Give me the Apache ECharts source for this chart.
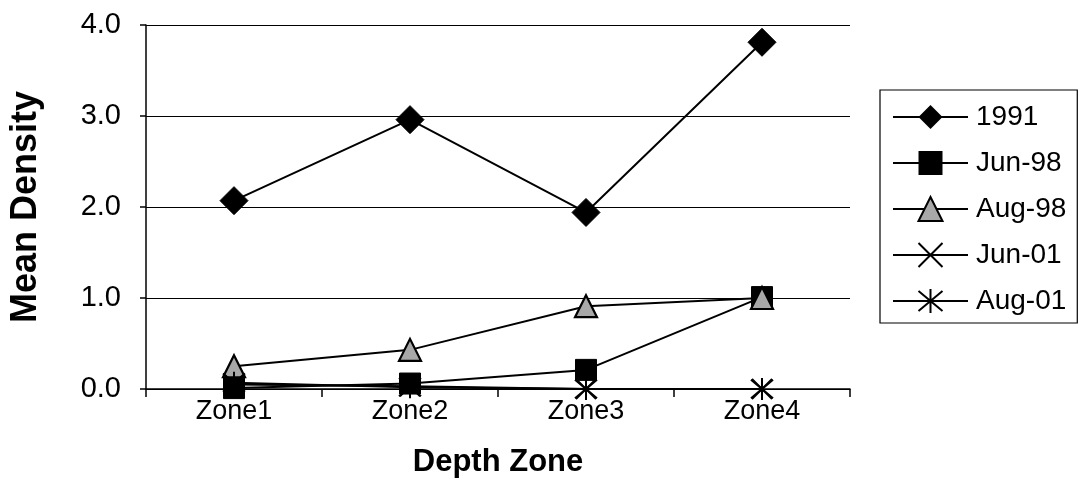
<!DOCTYPE html>
<html>
<head>
<meta charset="utf-8">
<script src="https://cdn.jsdelivr.net/npm/echarts@6/dist/echarts.min.js"></script>
<style>
html,body{margin:0;padding:0;background:#fff;}
#chart{width:1080px;height:500px;}
</style>
</head>
<body>
<div id="chart"></div>
<script>
var categories = ['Zone1', 'Zone2', 'Zone3', 'Zone4'];
var s1991 = [2.07, 2.96, 1.94, 3.81];
var sJun98 = [0.01, 0.06, 0.21, 1.01];
var sAug98 = [0.25, 0.43, 0.91, 1.0];
var sJun01 = [0.05, 0.03, 0.0, 0.0];
var sAug01 = [0.07, 0.02, 0.0, 0.0];
var yTicks = [0, 1, 2, 3, 4];

var FONT = '"Liberation Sans", Arial, sans-serif';
var crossPath = 'path://M0,0L10,10M10,0L0,10';
var starPath = 'path://M0,0L10,10M10,0L0,10M5,-1L5,11';

function mk(name, data, symbol, size, itemStyle) {
  return {
    name: name, type: 'line', data: data,
    symbol: symbol, symbolSize: size, showAllSymbol: true,
    lineStyle: {color: '#000', width: 2},
    itemStyle: itemStyle,
    emphasis: {disabled: true},
    animation: false
  };
}

var chart = echarts.init(document.getElementById('chart'), null, {renderer: 'canvas'});
chart.setOption({
  backgroundColor: '#fff',
  animation: false,
  grid: {left: 145, right: 230, top: 25, bottom: 111, containLabel: false},
  legend: {
    orient: 'vertical', left: 880, top: 90,
    padding: [13, 11, 8, 12],
    itemGap: 18, itemWidth: 75, itemHeight: 30,
    borderColor: '#000', borderWidth: 1.2,
    textStyle: {fontFamily: FONT, fontSize: 28, lineHeight: 28, color: '#000', padding: [0, 0, 0, 3]},
    data: ['1991', 'Jun-98', 'Aug-98', 'Jun-01', 'Aug-01']
  },
  xAxis: {
    type: 'category', data: categories, boundaryGap: true,
    axisLine: {lineStyle: {color: '#000', width: 1.5}},
    axisTick: {show: true, length: 8, alignWithLabel: false, lineStyle: {color: '#000', width: 1.5}},
    axisLabel: {fontFamily: FONT, fontSize: 27, color: '#000', margin: 9},
    name: 'Depth Zone', nameLocation: 'middle', nameGap: 58,
    nameTextStyle: {fontFamily: FONT, fontSize: 31, fontWeight: 'bold', color: '#000'}
  },
  yAxis: {
    type: 'value', min: yTicks[0], max: yTicks[yTicks.length - 1], interval: 1,
    axisLine: {show: true, lineStyle: {color: '#000', width: 1.5}},
    axisTick: {show: true, length: 6, inside: false, lineStyle: {color: '#000', width: 1.5}},
    splitLine: {show: true, lineStyle: {color: '#000', width: 1.2}},
    axisLabel: {fontFamily: FONT, fontSize: 29, color: '#000', margin: 25,
      formatter: function (v) { return v.toFixed(1); }},
    name: 'Mean Density', nameLocation: 'middle', nameGap: 102,
    nameTextStyle: {fontFamily: FONT, fontSize: 36, fontWeight: 'bold', color: '#000'}
  },
  series: [
    mk('1991', s1991, 'diamond', 28, {color: '#000', borderColor: '#000'}),
    mk('Jun-98', sJun98, 'rect', 21, {color: '#000', borderColor: '#000'}),
    mk('Aug-98', sAug98, 'triangle', 22, {color: '#a8a8a8', borderColor: '#000', borderWidth: 2.2}),
    mk('Jun-01', sJun01, crossPath, 20, {color: 'transparent', borderColor: '#000', borderWidth: 1.8}),
    mk('Aug-01', sAug01, starPath, 22, {color: 'transparent', borderColor: '#000', borderWidth: 2})
  ]
});
</script>
</body>
</html>
